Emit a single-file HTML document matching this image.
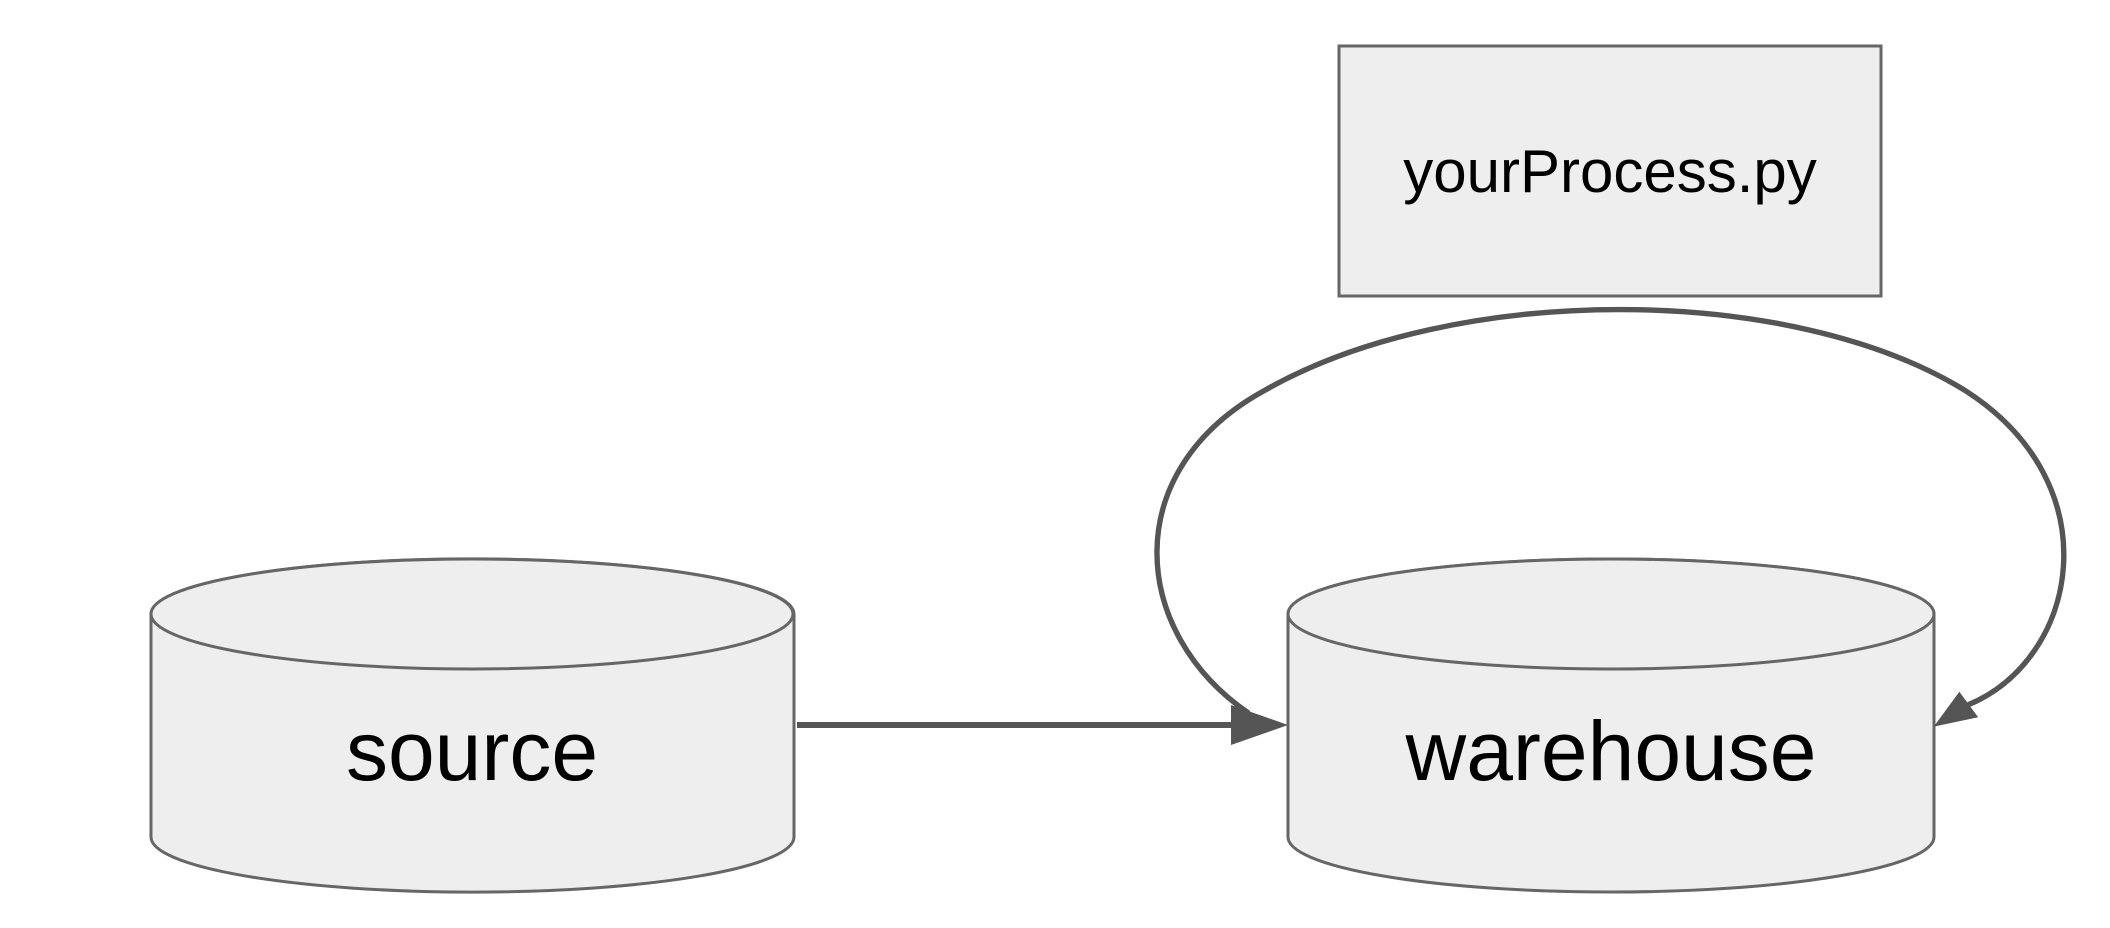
<!DOCTYPE html>
<html><head><style>html,body{margin:0;padding:0;background:#fff;}svg{display:block}</style></head>
<body>
<svg width="2110" height="928" viewBox="0 0 2110 928" xmlns="http://www.w3.org/2000/svg">
<rect x="1339" y="46" width="542" height="250" fill="#eeeeee" stroke="#666" stroke-width="3"/>
<text x="1610" y="192" font-family="Liberation Sans, sans-serif" font-size="60" text-anchor="middle" fill="#000">yourProcess.py</text>

<g fill="#eeeeee" stroke="#666" stroke-width="3">
<path d="M151,614 L151,837 A321,55 0 0 0 794,837 L794,614 A321,55 0 0 0 151,614 Z"/>
<ellipse cx="472" cy="614" rx="321" ry="55"/>
<path d="M1288,614 L1288,837 A323,55 0 0 0 1934,837 L1934,614 A323,55 0 0 0 1288,614 Z"/>
<ellipse cx="1611" cy="614" rx="323" ry="55"/>
</g>
<text x="472" y="780" font-family="Liberation Sans, sans-serif" font-size="84" text-anchor="middle" fill="#000">source</text>
<text x="1611" y="780" font-family="Liberation Sans, sans-serif" font-size="84" text-anchor="middle" fill="#000">warehouse</text>

<line x1="797" y1="725" x2="1236" y2="725" stroke="#555" stroke-width="6"/>
<path d="M1231,705 L1288,725 L1231,745 z" fill="#555"/>

<g transform="scale(1.3457)">
<path d="M928,530 C840,470 830,350 940,290 C1080,210 1330,210 1460,290 C1570,360 1545,490 1462,524" fill="none" stroke="#555" stroke-width="4"/>
<path d="M1437,540 L1456,514 L1470,533 z" fill="#555"/>
</g>
</svg>
</body></html>
